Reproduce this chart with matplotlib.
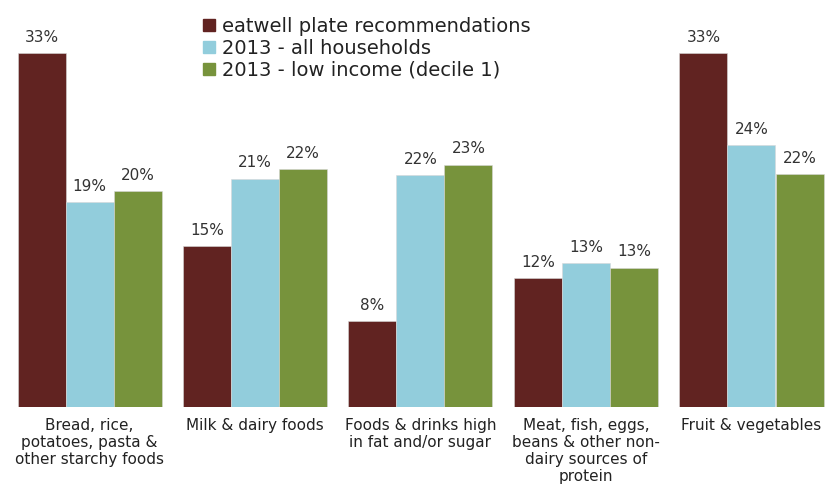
import matplotlib
matplotlib.use("Agg")
import matplotlib.pyplot as plt
import numpy as np
from matplotlib.lines import Line2D

plt.rcParams['font.family'] = ['DejaVu Sans']

categories = ["Bread, rice,\npotatoes, pasta &\nother starchy foods",
              "Milk & dairy foods",
              "Foods & drinks high\nin fat and/or sugar",
              "Meat, fish, eggs,\nbeans & other non-\ndairy sources of\nprotein",
              "Fruit & vegetables"]
series_names = ["eatwell plate recommendations",
                "2013 - all households",
                "2013 - low income (decile 1)"]
eatwell = [33, 15, 8, 12, 33]
all_households = [19.1, 21.3, 21.6, 13.4, 24.4]
low_income = [20.1, 22.2, 22.6, 13.0, 21.7]
colors = ["#612321", "#92CDDC", "#77933C"]

fig = plt.figure(figsize=(8.26, 4.86), dpi=100)
ax = fig.add_axes([0, 79/486, 1, 407/486])

x = np.arange(len(categories))
w = 48/165.5
data = [eatwell, all_households, low_income]
for i, (vals, c, name) in enumerate(zip(data, colors, series_names)):
    bars = ax.bar(x + (i - 1) * w, vals, w, color=c, label=name,
                  edgecolor="#d8d8d8", linewidth=0.4)
    for b, v in zip(bars, vals):
        ax.annotate(f"{round(v):d}%", (b.get_x() + b.get_width()/2, v),
                    xytext=(0, 8), textcoords="offset points",
                    ha="center", va="baseline", fontsize=11, color="#333333")

ax.set_xlim(-89.5/165.5, (826-89.5)/165.5)
ax.set_ylim(0, 407/(354/33))
ax.set_xticks(x)
ax.set_xticklabels(categories, fontsize=11, color="#222222", linespacing=1.15)
ax.tick_params(axis='x', length=0, pad=8)
ax.set_yticks([])
for s in ax.spines.values():
    s.set_visible(False)

handles = [Line2D([], [], marker='s', linestyle='none', markersize=8,
                  markerfacecolor=c, markeredgecolor=c) for c in colors]
leg = ax.legend(handles, series_names, loc='upper left',
                bbox_to_anchor=(203/826, 1 - 17/407), frameon=False,
                fontsize=14, handlelength=0.6, handletextpad=0.4,
                labelspacing=0.15, borderaxespad=0, borderpad=0)
for t in leg.get_texts():
    t.set_color("#222222")

fig.savefig("out.png", dpi=100)
